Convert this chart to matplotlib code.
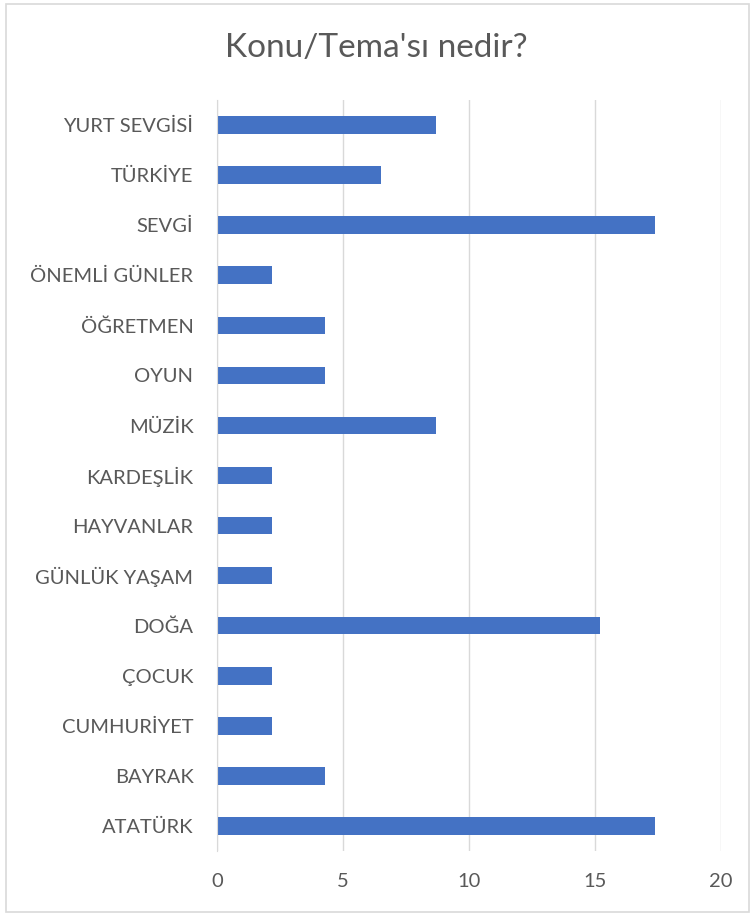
import matplotlib.pyplot as plt
from matplotlib.patches import Rectangle

# categories top to bottom as in the chart
categories = ["YURT SEVGİSİ", "TÜRKİYE", "SEVGİ", "ÖNEMLİ GÜNLER", "ÖĞRETMEN",
              "OYUN", "MÜZİK", "KARDEŞLİK", "HAYVANLAR", "GÜNLÜK YAŞAM",
              "DOĞA", "ÇOCUK", "CUMHURİYET", "BAYRAK", "ATATÜRK"]
values = [8.7, 6.5, 17.4, 2.2, 4.3,
          4.3, 8.7, 2.2, 2.2, 2.2,
          15.2, 2.2, 2.2, 4.3, 17.4]
xticks = [0, 5, 10, 15, 20]

plt.rcParams['font.family'] = ['Lato', 'DejaVu Sans']
txt = "#595959"
grid = "#D9D9D9"

fig = plt.figure(figsize=(7.53, 9.14), dpi=100)
ax = fig.add_axes([0.2882, 0.0689, 0.6693, 0.8217])

pos = list(range(len(categories)))[::-1]
ax.barh(pos, values, height=0.35, color="#4472C4", zorder=3)
ax.set_ylim(-0.5, len(categories) - 0.5)
ax.set_xlim(0, 20)
ax.set_yticks(pos)
ax.set_yticklabels(categories)
ax.set_xticks(xticks)
ax.set_xticklabels([str(t) for t in xticks])
ax.tick_params(axis="y", length=0, pad=17, labelsize=14.5, labelcolor=txt)
ax.tick_params(axis="x", length=0, pad=16, labelsize=14.5, labelcolor=txt)
ax.grid(axis="x", color=grid, linewidth=1, zorder=0)
for s in ["top", "right", "bottom"]:
    ax.spines[s].set_visible(False)
ax.spines["left"].set_color(grid)
ax.spines["left"].set_zorder(4)

fig.text(0.5, 0.948, "Konu/Tema'sı nedir?", ha="center", va="center",
         fontsize=24, color=txt)

fig.patches.append(Rectangle((0.008, 0.002), 0.987, 0.994, transform=fig.transFigure,
                             fill=False, edgecolor=grid, linewidth=1.2))

fig.savefig("out.png", dpi=100)
